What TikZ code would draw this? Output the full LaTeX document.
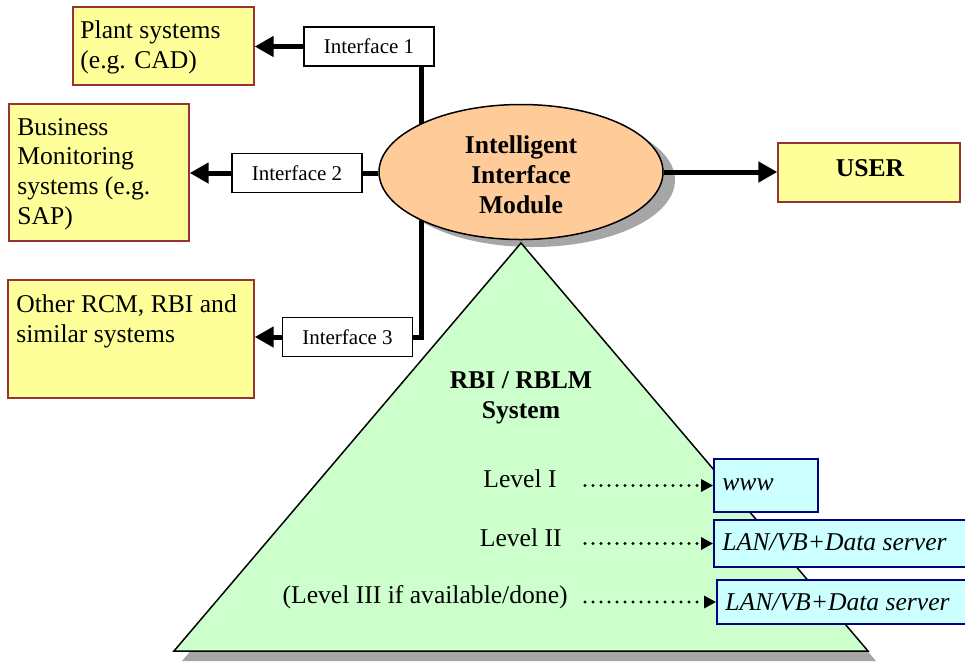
\documentclass[tikz,border=0pt]{standalone}
\usepackage{fontspec}
\setmainfont{Liberation Serif}
\usetikzlibrary{arrows.meta,shapes.geometric,fit}
\definecolor{sysyellow}{HTML}{FFFF99}
\definecolor{sysborder}{HTML}{993333}
\definecolor{peach}{HTML}{FFCC99}
\definecolor{pyrgreen}{HTML}{CCFFCC}
\definecolor{srvcyan}{HTML}{CCFFFF}
\definecolor{srvborder}{HTML}{000080}
\definecolor{shadowgray}{HTML}{A6A6A6}
\begin{document}
\begin{tikzpicture}[x=0.5pt,y=-0.5pt,
  sysbox/.style={draw=sysborder, fill=sysyellow, line width=0.7pt, inner sep=0pt},
  ifbox/.style={draw=black, fill=white, line width=0.7pt, inner sep=0pt,
                minimum width=65pt, minimum height=19.5pt,
                font=\fontsize{10.5pt}{12pt}\selectfont},
  srvbox/.style={draw=srvborder, fill=srvcyan, line width=0.9pt, inner sep=0pt},
  bodytxt/.style={font=\fontsize{12.8pt}{14.8pt}\selectfont, inner sep=0pt, align=left},
  boldtxt/.style={font=\fontsize{12.8pt}{15pt}\selectfont\bfseries, inner sep=0pt, align=center},
  srvtxt/.style={font=\fontsize{12.8pt}{15pt}\selectfont\itshape, inner sep=0pt},
  thicklink/.style={line width=2.5pt},
  bigarrow/.style={line width=2.5pt, -{Triangle[length=9.5pt,width=10pt]}},
  dotarrow/.style={line width=1.6pt, line cap=round, dash pattern=on 0pt off 4pt,
                   -{Triangle[length=6pt,width=6pt]}},
  shadowfill/.style={fill=shadowgray}
]
\useasboundingbox (0,0) rectangle (965,661);
\clip (0,0) rectangle (965,661);

% shadows
\fill[shadowfill] (533,180) ellipse [x radius=71pt, y radius=33.5pt];
\fill[shadowfill] (529,253) -- (876,661) -- (182,661) -- cycle;

% interface boxes
\node[ifbox] (if1) at (369,46.5) {Interface 1};
\node[ifbox] (if2) at (297,173) {Interface 2};
\node[ifbox] (if3) at (347.5,337) {Interface 3};

% bus line from Interface 1 down to Interface 3
\coordinate (bus) at (421,0);
\draw[thicklink, line join=miter] (if1.south -| bus) |- (if3.east);

% pyramid
\draw[fill=pyrgreen, line width=0.75pt] (521,243) -- (868,651) -- (174,651) -- cycle;

% central ellipse
\node[ellipse, draw, fill=peach, line width=0.75pt, minimum width=142pt,
      minimum height=67.5pt, inner sep=0pt] (iim) at (521,172) {};
\node[boldtxt, anchor=base] at (521,213) {Intelligent\\Interface\\Module};

% external system boxes
\node[sysbox, fit={(73,7) (254,85)}] (plant) {};
\node[bodytxt, anchor=north west] at (80,20.5) {Plant systems\\(e.g. CAD)};
\node[sysbox, fit={(9,104) (189,241)}] (biz) {};
\node[bodytxt, anchor=north west] at (17,118) {Business\\Monitoring\\systems (e.g.\\SAP)};
\node[sysbox, fit={(8,280) (254,398)}] (other) {};
\node[bodytxt, anchor=north west] at (16,294.5) {Other RCM, RBI and\\similar systems};
\node[sysbox, fit={(778,143) (960,202)}] (user) {};
\node[boldtxt, anchor=base] at (870,176) {USER};

% connectors
\draw[bigarrow] (if1.west) -- (if1.west -| plant.east);
\draw[bigarrow] (if2.west) -- (if2.west -| biz.east);
\draw[bigarrow] (if3.west) -- (if3.west -| other.east);
\draw[thicklink] (if2.east) -- (if2.east -| iim.west);
\draw[bigarrow] (iim.east) -- (iim.east -| user.west);

% pyramid texts
\node[boldtxt, anchor=north] at (521,371) {RBI / RBLM\\System};
\node[bodytxt, anchor=base east] (lvl1) at (557,487) {Level I};
\node[bodytxt, anchor=base east] (lvl2) at (562,546) {Level II};
\node[bodytxt, anchor=base east] (lvl3) at (568,603) {(Level III if available/done)};

% server boxes
\node[srvbox, fit={(714,459) (818,512)}] (srv1) {};
\node[srvbox, fit={(714,520) (975,567)}] (srv2) {};
\node[srvbox, fit={(717,580) (975,624)}] (srv3) {};
\node[srvtxt, anchor=base west] at (722,490) {www};
\node[srvtxt, anchor=base west] at (722,550) {LAN/VB+Data server};
\node[srvtxt, anchor=base west] at (725,610) {LAN/VB+Data server};

% dotted arrows
\coordinate (dotstart) at (585,0);
\draw[dotarrow] (srv1.west -| dotstart) -- (srv1.west);
\draw[dotarrow] (srv2.west -| dotstart) -- (srv2.west);
\draw[dotarrow] (srv3.west -| dotstart) -- (srv3.west);
\end{tikzpicture}
\end{document}
